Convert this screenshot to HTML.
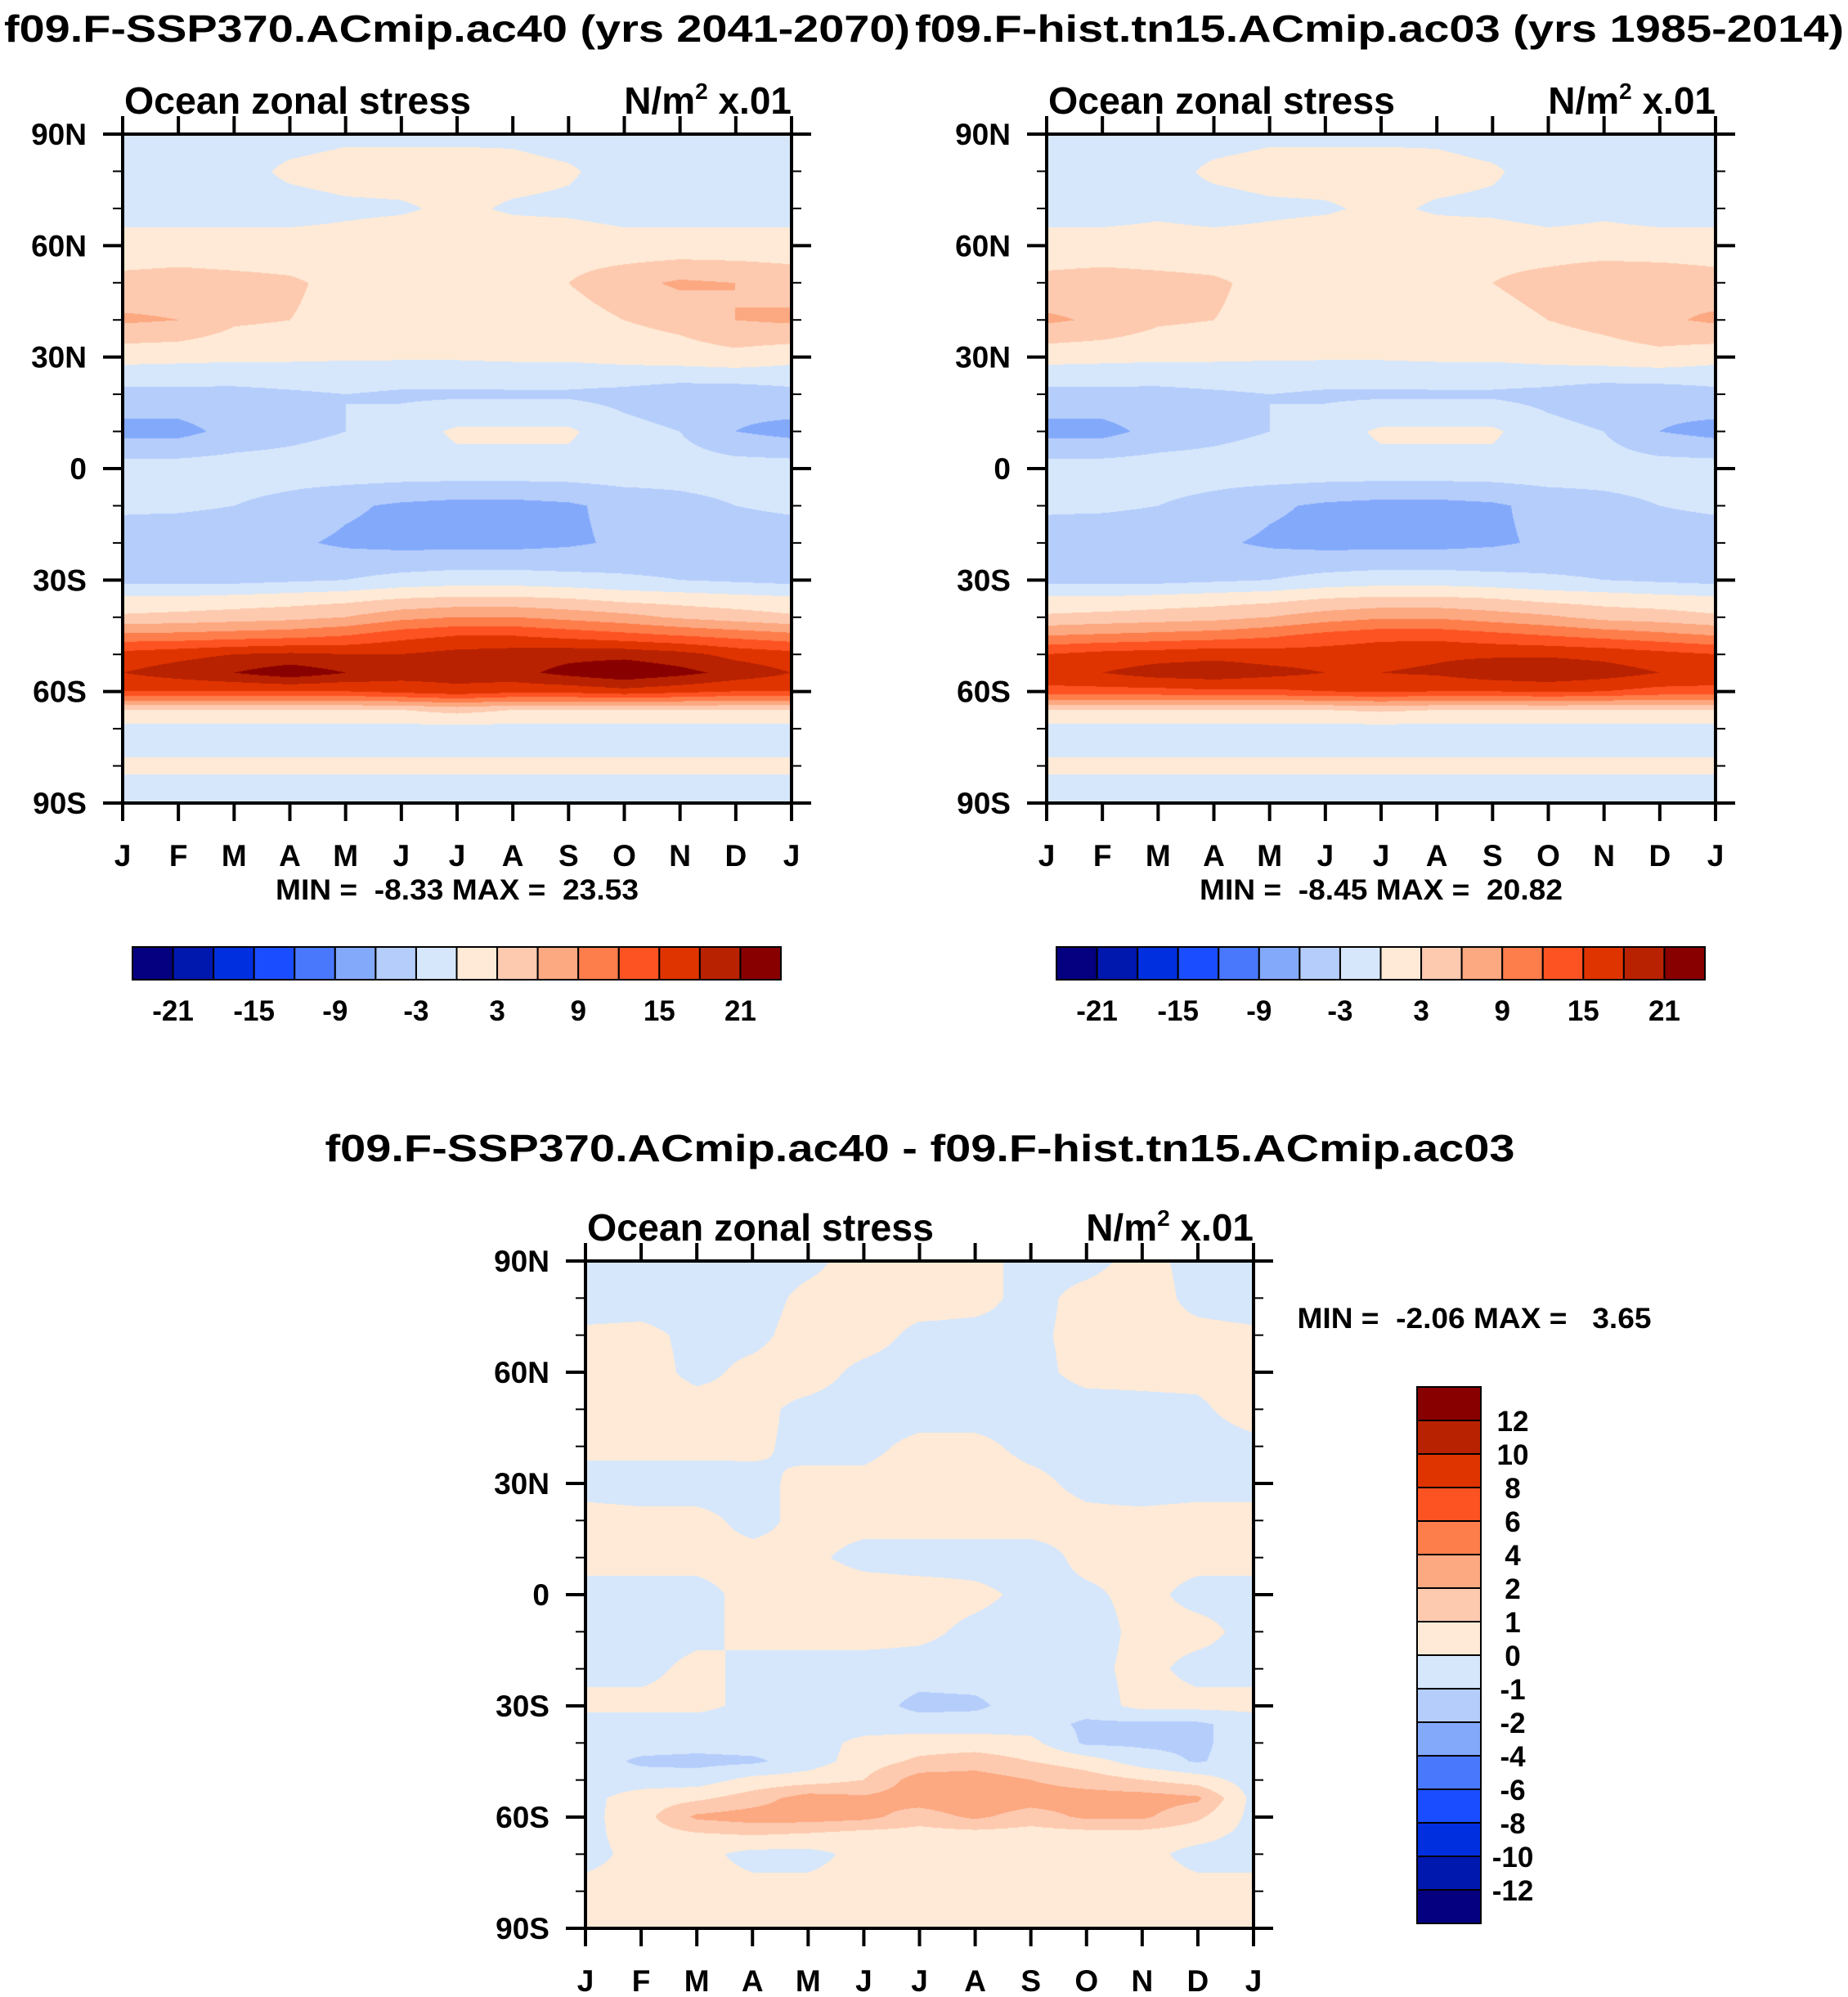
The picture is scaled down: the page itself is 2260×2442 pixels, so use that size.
<!DOCTYPE html>
<html><head><meta charset="utf-8"><style>
html,body{margin:0;padding:0;background:#fff;}
#wrap{position:relative;width:2260px;height:2442px;overflow:hidden;}
canvas{position:absolute;}
svg{position:absolute;left:0;top:0;}
text{font-family:"Liberation Sans",sans-serif;font-weight:bold;fill:#000;white-space:pre;}
</style></head><body>
<div id="wrap">
<canvas id="cA"></canvas>
<canvas id="cB"></canvas>
<canvas id="cC"></canvas>
<svg id="svg" width="2260" height="2442"></svg>
</div>
<script>
// ---------- data ----------
const months = ["J","F","M","A","M","J","J","A","S","O","N","D","J"];
const lats = [90,80,70,60,50,40,30,20,10,0,-10,-20,-30,-35,-40,-45,-50,-55,-60,-65,-70,-80,-90];
const latTickLabels = ["90N","60N","30N","0","30S","60S","90S"];
const levelsTop = [-21,-18,-15,-12,-9,-6,-3,0,3,6,9,12,15,18,21];
const levelsDiff = [-12,-10,-8,-6,-4,-2,-1,0,1,2,4,6,8,10,12];
const topBarLabels = ["-21","-15","-9","-3","3","9","15","21"];
const palette = ["#05007f","#0018ae","#002fe0","#1a4dff","#4a78fd","#83a9fb","#b5cdfb","#d6e7fc","#feead6","#fdcab0","#fca880","#fd7d4b","#fd5222","#e03400","#b82200","#880000"];
const fieldA = [
[-1,-1,-1,-1,-0.5,-0.5,-0.5,-0.5,-1,-1,-1,-1,-1],
[-1,-1,-1,0.5,1,1,1,0.8,0.3,-1,-1,-1,-1],
[-1,-1,-1,-1,-0.5,-0.3,0.5,-0.3,-0.5,-1,-1,-1,-1],
[1,1,1,1,1,1.5,1.5,1.5,1.5,1,1,1,1],
[4,4.5,4,3.5,2,1.5,1.5,1.8,3,5,6.5,6,5],
[6.5,6,3.5,3,2,1.5,1.5,1.5,1.5,3,4,6,6.5],
[1,0.8,0.6,0.5,0.3,0.3,0.3,0.5,0.5,1,1.5,2,1],
[-4,-4,-4,-3.5,-3,-3.5,-3.5,-3.5,-3.5,-4,-5,-5,-4],
[-7,-7,-5,-4,-3,-1.5,0.5,0.5,0.5,-2,-3,-6,-7],
[-1.5,-1.5,-1.5,-1.5,-1,-1,-1,-1,-1,-1,-1.5,-1.5,-1.5],
[-2.5,-2.5,-3,-4,-5.5,-6.5,-7,-7,-6.5,-5,-4,-3,-2.5],
[-4.5,-5,-5,-5.5,-6.5,-7,-7,-7,-6.5,-5.5,-5,-4.5,-4.5],
[-4,-4,-4,-3.5,-3,-2,-1.5,-1.5,-2,-2.5,-3,-3.5,-4],
[0.5,0.5,1,1.5,2,3,3.5,3.5,3,2,1.5,1,0.5],
[3.5,4,4.5,5,6,8,9,9,8,7,5.5,4.5,3.5],
[10,10,10.5,11,12,14,15,15,14,13,12,11,10],
[16,17,18,18.5,18,18,19,19.5,20,20,19,17,16],
[18,19.5,21,23,21,19.5,19.5,20,22,23.5,22,20,18],
[15,15,15,15,15,16,17,16,16,17,16,15,15],
[3,3,3,3,3,3,4,3,3,3,3,3,3],
[-1,-1,-1,-1,-1,-1,-1,-1,-1,-1,-1,-1,-1],
[0.3,0.3,0.3,0.3,0.3,0.3,0.3,0.3,0.3,0.3,0.3,0.3,0.3],
[-1,-1,-1,-1,-1,-1,-1,-1,-1,-1,-1,-1,-1]];
const fieldB = [
[-1,-1,-1,-1,-0.5,-0.5,-0.5,-0.5,-1,-1,-1,-1,-1],
[-1,-1,-1,0.5,1,1,1,0.8,0.3,-1,-1,-1,-1],
[-1,-1,-0.5,-1,-0.5,-0.3,0.5,-0.3,-0.5,-1,-0.5,-1,-1],
[1,1,1,1,1,1.5,1.5,1.5,1.5,1,1,1,1],
[4,4.5,4,3.5,2,1.5,1.5,1.8,3,4.5,6,5.5,4.5],
[6.5,5.5,3.5,3,2,1.5,1.5,1.5,1.5,3,4,5.5,6.5],
[1,0.8,0.6,0.5,0.3,0.3,0.3,0.5,0.5,1,1.5,2,1],
[-4,-4,-4,-3.5,-3,-3.5,-3.5,-3.5,-3.5,-4,-5,-5,-4],
[-7,-7,-5,-4,-3,-1.5,0.5,0.5,0.5,-2,-3,-6,-7],
[-1.5,-1.5,-1.5,-1.5,-1,-1,-1,-1,-1,-1,-1.5,-1.5,-1.5],
[-2.5,-2.5,-3,-4,-5.5,-6.5,-7,-7,-6.5,-5,-4,-3,-2.5],
[-4.5,-5,-5,-5.5,-6.5,-7,-7,-7,-6.5,-5.5,-5,-4.5,-4.5],
[-4,-4,-4,-3.5,-3,-2,-1.5,-1.5,-2,-2.5,-3,-3.5,-4],
[0.5,0.5,1,1.5,2,3,3.5,3.5,3,2,1.5,1,0.5],
[3.5,4,4.5,5,6,7.5,8.5,8.5,7.5,6.5,5,4.5,3.5],
[9,9.5,10,10.5,11.5,13,14,14,13,12,11,10,9],
[15,16,16.5,17,16.5,16.5,17,17.5,17.5,17.5,17,16,15],
[17,18,19.5,20,19,18,18,18.5,20,20.5,19.5,18,17],
[14,14,14,14.5,14.5,15,15.5,15,15,15.5,15,14,14],
[3,3,3,3,3,3,3.5,3,3,3,3,3,3],
[-1,-1,-1,-1,-1,-1,-1,-1,-1,-1,-1,-1,-1],
[0.3,0.3,0.3,0.3,0.3,0.3,0.3,0.3,0.3,0.3,0.3,0.3,0.3],
[-1,-1,-1,-1,-1,-1,-1,-1,-1,-1,-1,-1,-1]];
const fieldC = [
[-0.5,-0.5,-0.5,-0.5,-0.3,0.5,0.5,0.3,-0.3,-0.3,0.3,-0.3,-0.5],
[-0.5,-0.5,-0.5,-0.5,0.3,0.5,0.5,0.3,-0.3,0.3,0.5,-0.3,-0.5],
[0.2,0.3,-0.3,-0.3,0.5,0.5,-0.3,-0.3,-0.2,0.3,0.3,0.3,0.2],
[0.5,0.5,-0.3,0.3,0.5,-0.3,-0.5,-0.5,-0.3,0.3,0.3,0.3,0.5],
[0.5,0.5,0.5,0.3,-0.3,-0.5,-0.5,-0.5,-0.5,-0.4,-0.3,-0.2,0.5],
[0.3,0.3,0.3,0.2,-0.3,-0.3,0.3,0.3,-0.3,-0.4,-0.5,-0.5,-0.3],
[-0.5,-0.5,-0.5,-0.3,0.3,0.3,0.5,0.5,0.3,-0.3,-0.5,-0.5,-0.5],
[0.5,0.3,0.3,-0.3,0.3,0.3,0.5,0.5,0.5,0.3,0.3,0.5,0.5],
[0.3,0.3,0.3,0.3,0.2,-0.3,-0.5,-0.5,-0.5,0.3,0.3,0.3,0.3],
[-0.3,-0.3,-0.3,0.3,0.5,0.5,0.5,0.3,-0.3,-0.2,0.3,-0.3,-0.3],
[-0.5,-0.5,-0.3,0.3,0.5,0.5,0.3,-0.3,-0.5,-0.5,0.3,0.3,-0.3],
[-0.3,-0.3,0.3,-0.3,-0.5,-0.5,-0.5,-0.5,-0.5,-0.3,0.3,-0.3,-0.3],
[0.3,0.3,0.3,-0.3,-0.5,-0.5,-1.3,-1.2,-0.5,-0.5,0.3,0.3,0.3],
[-0.5,-0.5,-0.5,-0.5,-0.5,-0.5,-0.5,-0.5,-0.5,-1.2,-1.2,-1.2,-0.5],
[-0.5,-0.5,-0.6,-0.5,-0.5,0.3,0.5,0.5,0.3,-1.2,-1.2,-1.2,-0.5],
[-0.5,-1.2,-1.3,-1.2,-0.5,0.5,1.2,1.5,1,0.5,-0.5,-1.1,-0.5],
[-0.5,-0.5,-0.5,0.3,0.5,1,2.5,2.5,2,1.5,1,0.5,-0.5],
[-0.3,0.5,0.8,1.5,2.5,2.2,2.5,2.8,2.5,2.5,2.5,2.2,-0.3],
[-0.3,0.6,2.2,2.5,2.5,2.3,1.5,2.2,1.5,2.2,2.2,1.2,-0.3],
[-0.3,0.5,0.8,1,0.8,0.5,0.5,0.5,0.5,0.5,0.5,0.3,-0.3],
[-0.3,0.3,0.3,-0.3,-0.3,0.3,0.3,0.3,0.3,0.3,0.3,-0.3,-0.3],
[0.3,0.3,0.3,0.3,0.3,0.3,0.3,0.3,0.3,0.3,0.3,0.3,0.3],
[0.3,0.3,0.3,0.3,0.3,0.3,0.3,0.3,0.3,0.3,0.3,0.3,0.3]];

// ---------- helpers ----------
const NS="http://www.w3.org/2000/svg";
const svg=document.getElementById('svg');
function el(tag,attrs,parent){const e=document.createElementNS(NS,tag);for(const k in attrs)e.setAttribute(k,attrs[k]);(parent||svg).appendChild(e);return e;}
function txt(x,y,s,size,anchor,name,parent){const t=el('text',{x:x,y:y,'font-size':size,'text-anchor':anchor||'start'},parent);t.textContent=s;


return t;}
function fit(t,len){t.setAttribute('textLength',len);t.setAttribute('lengthAdjust','spacingAndGlyphs');}
function hex(c){return [parseInt(c.substr(1,2),16),parseInt(c.substr(3,2),16),parseInt(c.substr(5,2),16)];}
const pal=palette.map(hex);
function classify(v,levels){let i=0;while(i<levels.length&&v>=levels[i])i++;return i;}
function sample(field,m,lat){
  let r=0;while(r<lats.length-2&&lat<lats[r+1])r++;
  const t=(lats[r]-lat)/(lats[r]-lats[r+1]);
  let c=Math.min(11,Math.floor(m));const u=m-c;
  const a=field[r][c]*(1-u)+field[r][c+1]*u;
  const b=field[r+1][c]*(1-u)+field[r+1][c+1]*u;
  return a*(1-t)+b*t;
}
function drawField(id,field,levels,x0,y0,w,h){
  const cv=document.getElementById(id);cv.width=w;cv.height=h;cv.style.left=x0+'px';cv.style.top=y0+'px';
  const ctx=cv.getContext('2d');const img=ctx.createImageData(w,h);
  for(let y=0;y<h;y++){const lat=90-180*y/(h-1);
    for(let x=0;x<w;x++){const m=12*x/(w-1);const v=sample(field,m,lat);const c=pal[classify(v,levels)];
      const k=(y*w+x)*4;img.data[k]=c[0];img.data[k+1]=c[1];img.data[k+2]=c[2];img.data[k+3]=255;}}
  ctx.putImageData(img,0,0);
}
function axes(g,x0,y0,x1,y1,condensed){
  const w=x1-x0,h=y1-y0;
  const xs=m=>x0+w*m/12, ys=lat=>y0+h*(90-lat)/180;
  el('rect',{x:x0,y:y0,width:w,height:h,fill:'none',stroke:'#000','stroke-width':4},g);
  for(let m=0;m<=12;m++){
    el('line',{x1:xs(m),x2:xs(m),y1:y0,y2:y0-22,stroke:'#000','stroke-width':4},g);
    el('line',{x1:xs(m),x2:xs(m),y1:y1,y2:y1+22,stroke:'#000','stroke-width':4},g);
    txt(xs(m),y1+77,months[m],37,'middle','month-label-'+m,g);
  }
  for(let lat=-90;lat<=90;lat+=10){
    const maj=lat%30===0;const L=maj?24:12;
    el('line',{x1:x0,x2:x0-L,y1:ys(lat),y2:ys(lat),stroke:'#000','stroke-width':maj?4:2},g);
    el('line',{x1:x1,x2:x1+L,y1:ys(lat),y2:ys(lat),stroke:'#000','stroke-width':maj?4:2},g);
  }
  latTickLabels.forEach((s,i)=>{const t=txt(x0-44,ys(90-30*i)+13,s,37,'end','lat-label-'+s,g);});
  const st=txt(x0+2,y0-25,'Ocean zonal stress',46,'start','plot-subtitle',g);fit(st,424);
  const u=txt(x1,y0-25,'',46,'end','units-label',g);
  u.innerHTML='N/m<tspan dy="-18" font-size="28">2</tspan><tspan dy="18"> x.01</tspan>';
}
function hbar(g,x0,y0,w,h,labels){
  const bw=w/16;
  for(let i=0;i<16;i++){const r=el('rect',{x:x0+i*bw,y:y0,width:bw,height:h,fill:palette[i],stroke:'#000','stroke-width':2},g);
    }
  labels.forEach((s,j)=>{txt(x0+(1+2*j)*bw,y0+h+50,s,35,'middle','colorbar-label',g);});
}

const A={x0:150,y0:164,x1:968,y1:982};
const B={x0:1280,y0:164,x1:2098,y1:982};
const C={x0:716,y0:1542,x1:1533,y1:2358};
drawField('cA',fieldA,levelsTop,A.x0,A.y0,A.x1-A.x0,A.y1-A.y0);
drawField('cB',fieldB,levelsTop,B.x0,B.y0,B.x1-B.x0,B.y1-B.y0);
drawField('cC',fieldC,levelsDiff,C.x0,C.y0,C.x1-C.x0,C.y1-C.y0);

const gA=el('g',{});
axes(gA,A.x0,A.y0,A.x1,A.y1);
fit(txt(5,51,'f09.F-SSP370.ACmip.ac40 (yrs 2041-2070)',46,'start','panel-title-ssp370',gA),1108);
fit(txt(559,1100,'MIN =  -8.33 MAX =  23.53',35,'middle','min-max-ssp370',gA),444);
hbar(gA,162,1158,793,40,topBarLabels);

const gB=el('g',{});
axes(gB,B.x0,B.y0,B.x1,B.y1);
fit(txt(1119,51,'f09.F-hist.tn15.ACmip.ac03 (yrs 1985-2014)',46,'start','panel-title-hist',gB),1136);
fit(txt(1689,1100,'MIN =  -8.45 MAX =  20.82',35,'middle','min-max-hist',gB),444);
hbar(gB,1292,1158,793,40,topBarLabels);

const gC=el('g',{});
axes(gC,C.x0,C.y0,C.x1,C.y1);
fit(txt(1125,1420,'f09.F-SSP370.ACmip.ac40 - f09.F-hist.tn15.ACmip.ac03',46,'middle','panel-title-difference',gC),1455);
fit(txt(1803,1624,'MIN =  -2.06 MAX =   3.65',35,'middle','min-max-difference',gC),433);
const vb={x:1733,y:1696,w:78,h:656};const bh=vb.h/16;
for(let i=0;i<16;i++){const r=el('rect',{x:vb.x,y:vb.y+i*bh,width:vb.w,height:bh,fill:palette[15-i],stroke:'#000','stroke-width':2},gC);
  }
for(let i=1;i<=15;i++){const v=levelsDiff[15-i];txt(1850,vb.y+i*bh+13,String(v),35,'middle','colorbar-label',gC);}
</script>
</body></html>
